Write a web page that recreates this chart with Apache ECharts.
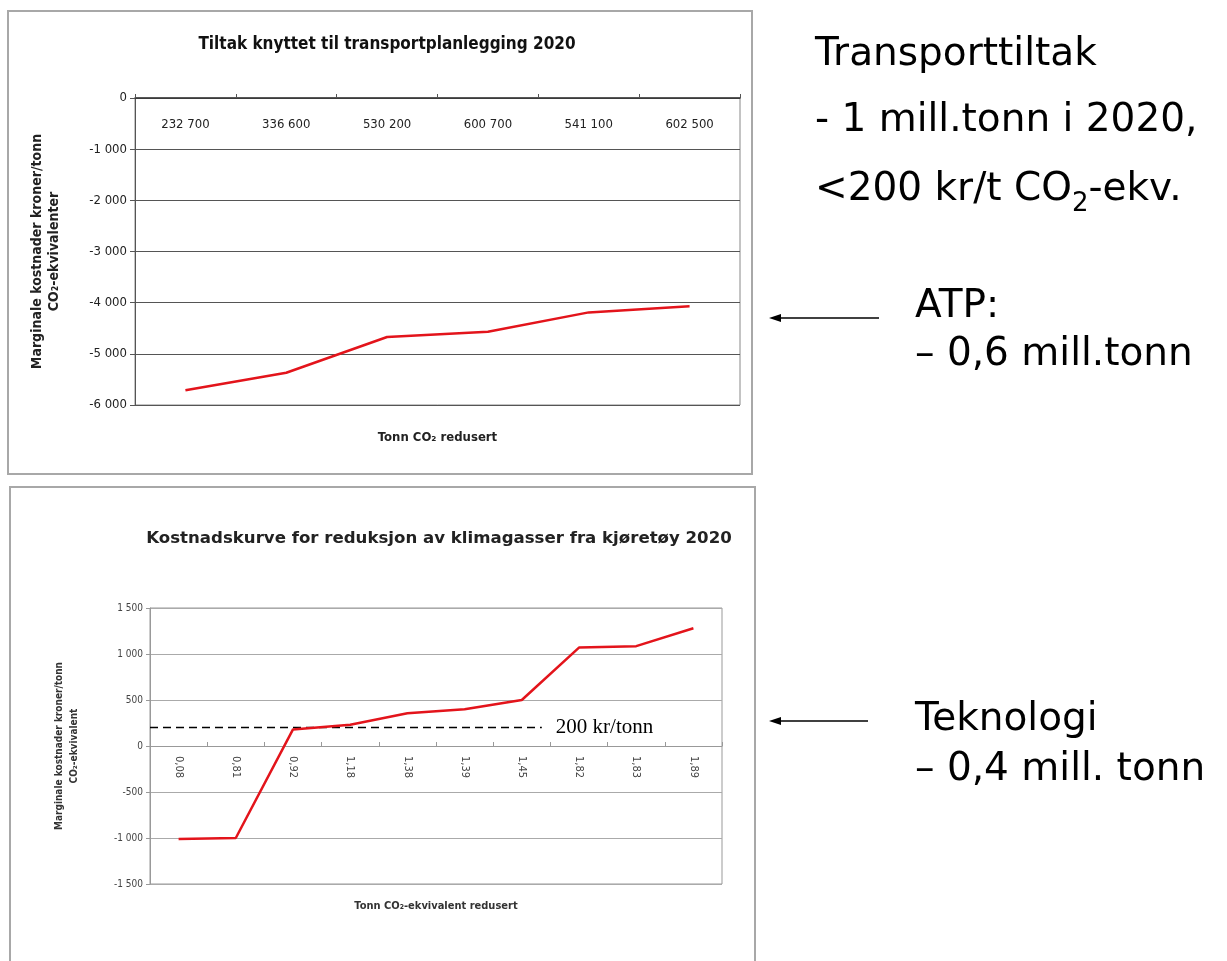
<!DOCTYPE html>
<html>
<head>
<meta charset="utf-8">
<script src="https://cdn.jsdelivr.net/npm/echarts@6/dist/echarts.min.js"></script>
<style>
html,body{margin:0;padding:0;background:#fff;}
#chart{width:1227px;height:961px;}
</style>
</head>
<body>
<div id="chart"></div>
<script>
// ---- data ----
const topCategories = ['232 700', '336 600', '530 200', '600 700', '541 100', '602 500'];
const topValues = [-5710, -5370, -4670, -4570, -4190, -4070];
const topTicks = { min: -6000, max: 0, interval: 1000 };

const bottomCategories = ['0,08', '0,81', '0,92', '1,18', '1,38', '1,39', '1,45', '1,82', '1,83', '1,89'];
const bottomValues = [-1010, -1000, 180, 230, 355, 400, 500, 1070, 1085, 1280];
const bottomTicks = { min: -1500, max: 1500, interval: 500 };

const refLevel = 200;          // 200 kr/tonn threshold
const refSpan = [0, 6.85];     // extent of dashed line in category units
const refLabel = '200 kr/tonn';

const topTitle = 'Tiltak knyttet til transportplanlegging 2020';
const topYName = 'Marginale kostnader kroner/tonn\nCO\u2082-ekvivalenter';
const topXName = 'Tonn CO\u2082 redusert';
const bottomTitle = 'Kostnadskurve for reduksjon av klimagasser fra kjøretøy 2020';
const bottomYName = 'Marginale kostnader kroner/tonn\nCO\u2082-ekvivalent';
const bottomXName = 'Tonn CO\u2082-ekvivalent redusert';

// ---- helpers ----
const NARROW = "'Liberation Sans Narrow', 'DejaVu Sans Condensed', 'Liberation Sans', sans-serif";
const SIDE = "'DejaVu Sans', Verdana, sans-serif";
function fmt(v) {
  const s = Math.abs(v).toString().replace(/\B(?=(\d{3})+(?!\d))/g, ' ');
  return (v < 0 ? '-' : '') + s;
}
const RED = '#e3141b';
const FS = 39;

const chart = echarts.init(document.getElementById('chart'), null, { renderer: 'canvas' });

const hiddenAxis = { axisLine: { show: false, onZero: false }, axisTick: { show: false }, axisLabel: { show: false }, splitLine: { show: false } };

const option = {
  backgroundColor: '#ffffff',
  animation: false,
  title: [
    { text: topTitle, left: 382, top: 31, textAlign: 'center',
      textStyle: { fontFamily: NARROW, fontWeight: 'bold', fontSize: 17, color: '#111' } },
    { text: bottomTitle, left: 434, top: 525, textAlign: 'center',
      textStyle: { fontFamily: "'DejaVu Sans', sans-serif", fontWeight: 'bold', fontSize: 16.6, color: '#222' } }
  ],
  grid: [
    { left: 135, top: 98, width: 605, height: 307, show: true, borderColor: '#888', borderWidth: 1, backgroundColor: 'transparent' },
    { left: 150, top: 608, width: 572, height: 276, show: true, borderColor: '#999', borderWidth: 1, backgroundColor: 'transparent' },
    // upper half of the lower chart (max .. 0): carries the category labels that sit on the zero line
    { left: 150, top: 608, width: 572, height: 138, show: false }
  ],
  xAxis: [
    { type: 'category', gridIndex: 0, data: topCategories, position: 'top',
      axisLine: { onZero: false, lineStyle: { color: '#333', width: 1.5 } },
      axisTick: { show: true, inside: false, length: 4, lineStyle: { color: '#555' } },
      axisLabel: { inside: true, margin: 20, fontFamily: NARROW, fontSize: 13, color: '#222' },
      splitLine: { show: false } },
    Object.assign({ type: 'value', gridIndex: 0, min: 0, max: 1, position: 'bottom',
      name: topXName, nameLocation: 'middle', nameGap: 26,
      nameTextStyle: { fontFamily: NARROW, fontWeight: 'bold', fontSize: 13, color: '#222' } }, hiddenAxis),
    Object.assign({ type: 'category', gridIndex: 1, data: bottomCategories, position: 'bottom' }, hiddenAxis),
    Object.assign({ type: 'value', gridIndex: 1, min: 0, max: bottomCategories.length, position: 'bottom',
      name: bottomXName, nameLocation: 'middle', nameGap: 17,
      nameTextStyle: { fontFamily: NARROW, fontWeight: 'bold', fontSize: 11, color: '#333' } }, hiddenAxis),
    { type: 'category', gridIndex: 2, data: bottomCategories, position: 'bottom',
      axisLine: { show: true, onZero: false, lineStyle: { color: '#999', width: 1 } },
      axisTick: { show: true, inside: true, length: 4, lineStyle: { color: '#999' } },
      axisLabel: { margin: 10, rotate: -90, fontFamily: NARROW, fontSize: 11, color: '#444' },
      splitLine: { show: false } }
  ],
  yAxis: [
    { type: 'value', gridIndex: 0, min: topTicks.min, max: topTicks.max, interval: topTicks.interval,
      axisLine: { show: true, lineStyle: { color: '#555' } },
      axisTick: { show: true, length: 5, lineStyle: { color: '#555' } },
      axisLabel: { formatter: fmt, fontFamily: NARROW, fontSize: 13, color: '#222', margin: 8 },
      splitLine: { show: true, lineStyle: { color: '#555', width: 1.2 } },
      name: topYName, nameLocation: 'middle', nameRotate: 90, nameGap: 72,
      nameTextStyle: { fontFamily: NARROW, fontWeight: 'bold', fontSize: 14, color: '#222', lineHeight: 17 } },
    { type: 'value', gridIndex: 1, min: bottomTicks.min, max: bottomTicks.max, interval: bottomTicks.interval,
      axisLine: { show: true, lineStyle: { color: '#999' } },
      axisTick: { show: true, length: 4, lineStyle: { color: '#999' } },
      axisLabel: { formatter: fmt, fontFamily: NARROW, fontSize: 10, color: '#444', margin: 7 },
      splitLine: { show: true, lineStyle: { color: '#aaa', width: 1.2 } },
      name: bottomYName, nameLocation: 'middle', nameRotate: 90, nameGap: 68,
      nameTextStyle: { fontFamily: NARROW, fontWeight: 'bold', fontSize: 10, color: '#333', lineHeight: 15 } },
    Object.assign({ type: 'value', gridIndex: 2, min: 0, max: 1 }, hiddenAxis)
  ],
  series: [
    { type: 'line', xAxisIndex: 0, yAxisIndex: 0, data: topValues, symbol: 'none',
      lineStyle: { color: RED, width: 2.5 } },
    { type: 'line', xAxisIndex: 3, yAxisIndex: 1, data: refSpan.map(x => [x, refLevel]), symbol: 'none',
      lineStyle: { color: '#000', width: 1.5, type: [8, 5] },
      endLabel: { show: true, formatter: refLabel, distance: 14, fontFamily: "'Liberation Serif', 'Times New Roman', serif", fontSize: 21, color: '#000' } },
    { type: 'line', xAxisIndex: 2, yAxisIndex: 1, data: bottomValues, symbol: 'none',
      lineStyle: { color: RED, width: 2.5 } }
  ],
  graphic: [
    { type: 'rect', shape: { x: 8, y: 11, width: 744, height: 463 }, style: { fill: 'none', stroke: '#a8a8a8', lineWidth: 2 }, z: -1 },
    { type: 'rect', shape: { x: 10, y: 487, width: 745, height: 490 }, style: { fill: 'none', stroke: '#a8a8a8', lineWidth: 2 }, z: -1 },
    { type: 'text', x: 815, y: 55, style: { text: 'Transporttiltak', font: FS + 'px ' + SIDE, fill: '#000', textVerticalAlign: 'middle' } },
    { type: 'text', x: 815, y: 121, style: { text: '- 1 mill.tonn i 2020,', font: FS + 'px ' + SIDE, fill: '#000', textVerticalAlign: 'middle' } },
    { type: 'text', x: 815, y: 170, style: {
        text: '{a|<200 kr/t CO}{s|2}{a|-ekv.}', fill: '#000',
        rich: {
          a: { fontFamily: SIDE, fontSize: FS, verticalAlign: 'bottom', padding: [0, 0, 8, 0], color: '#000' },
          s: { fontFamily: SIDE, fontSize: 26, verticalAlign: 'bottom', color: '#000' }
        } } },
    { type: 'text', x: 915, y: 307, style: { text: 'ATP:', font: FS + 'px ' + SIDE, fill: '#000', textVerticalAlign: 'middle' } },
    { type: 'text', x: 915, y: 355, style: { text: '\u2013 0,6 mill.tonn', font: FS + 'px ' + SIDE, fill: '#000', textVerticalAlign: 'middle' } },
    { type: 'text', x: 915, y: 720, style: { text: 'Teknologi', font: FS + 'px ' + SIDE, fill: '#000', textVerticalAlign: 'middle' } },
    { type: 'text', x: 915, y: 770, style: { text: '\u2013 0,4 mill. tonn', font: FS + 'px ' + SIDE, fill: '#000', textVerticalAlign: 'middle' } },
    { type: 'line', shape: { x1: 778, y1: 318, x2: 879, y2: 318 }, style: { stroke: '#000', lineWidth: 1.5 } },
    { type: 'polygon', shape: { points: [[769, 318], [781, 314], [781, 322]] }, style: { fill: '#000' } },
    { type: 'line', shape: { x1: 778, y1: 721, x2: 868, y2: 721 }, style: { stroke: '#000', lineWidth: 1.5 } },
    { type: 'polygon', shape: { points: [[769, 721], [781, 717], [781, 725]] }, style: { fill: '#000' } }
  ]
};
chart.setOption(option);
</script>
</body>
</html>
